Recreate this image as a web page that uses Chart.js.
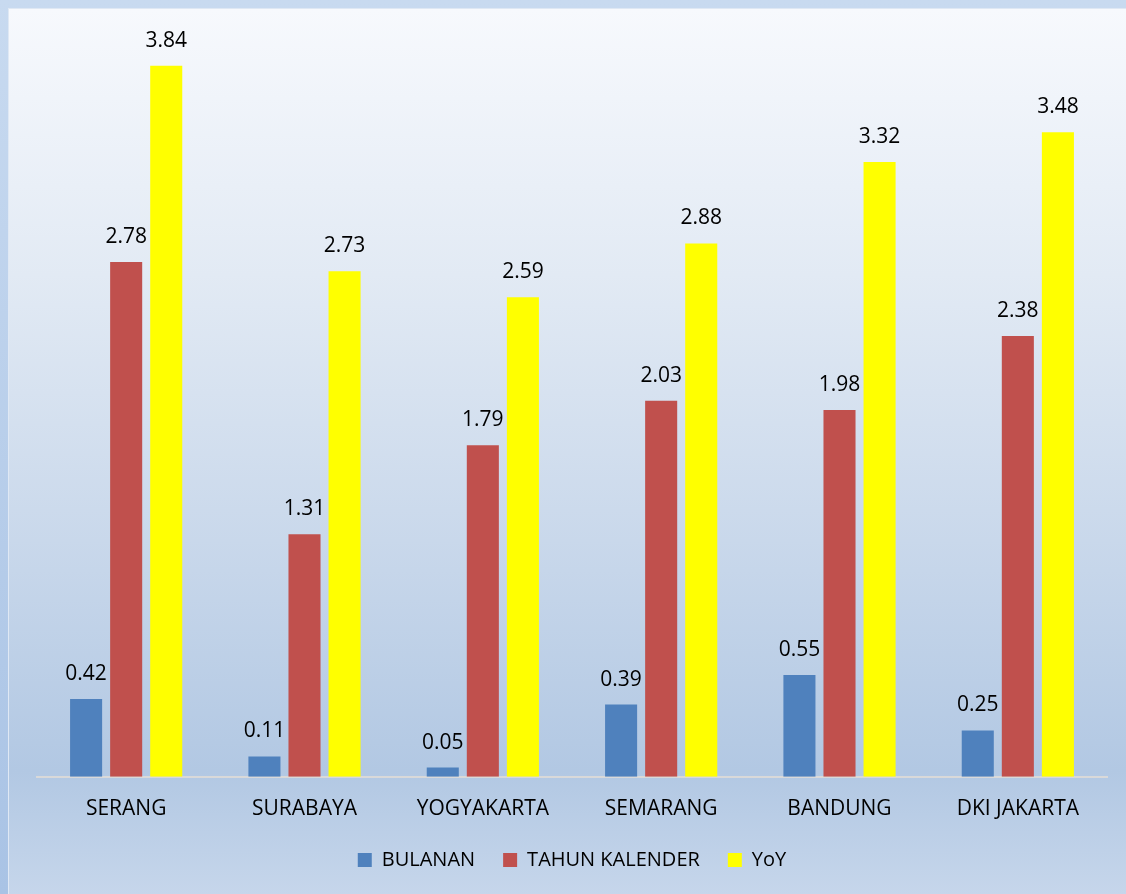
<!DOCTYPE html>
<html>
<head>
<meta charset="utf-8">
<script src="https://cdn.jsdelivr.net/npm/chart.js@4"></script>
<style>
  html, body { margin: 0; padding: 0; }
  body { width: 1126px; height: 894px; background: linear-gradient(to bottom, #c8daf0, #a9c3e5); overflow: hidden; }
  #panel {
    position: absolute; left: 8px; top: 8px; width: 1118px; height: 886px;
    background: linear-gradient(to bottom, #f7f9fd 0%, #e2eaf4 30%, #c9d8eb 60%, #b2c8e3 86%, #c6d6eb 100%);
    border-left: 1px solid #dfe8f4; border-top: 1px solid #dfe8f4;
  }
  #wrap { position: absolute; left: 0; top: 0; width: 1126px; height: 894px; }
</style>
</head>
<body>
<div id="panel"></div>
<div id="wrap"><canvas id="myChart"></canvas></div>
<script>
  const cities = ["SERANG", "SURABAYA", "YOGYAKARTA", "SEMARANG", "BANDUNG", "DKI JAKARTA"];
  const bulanan = [0.42, 0.11, 0.05, 0.39, 0.55, 0.25];
  const tahunKalender = [2.78, 1.31, 1.79, 2.03, 1.98, 2.38];
  const yoy = [3.84, 2.73, 2.59, 2.88, 3.32, 3.48];

  Chart.defaults.font.family = "'Open Sans', sans-serif";
  Chart.defaults.color = "#000";

  // labels above each bar
  const barLabels = {
    id: "barLabels",
    afterDatasetsDraw(chart) {
      const ctx = chart.ctx;
      ctx.save();
      ctx.font = "21px 'Open Sans', sans-serif";
      ctx.fillStyle = "#000";
      ctx.textAlign = "center";
      ctx.textBaseline = "middle";
      chart.data.datasets.forEach(function (ds, i) {
        chart.getDatasetMeta(i).data.forEach(function (bar, j) {
          ctx.fillText(ds.data[j].toFixed(2), bar.x, bar.y - 25);
        });
      });
      ctx.restore();
    },
  };

  const data = {
    labels: cities,
    datasets: [
      { label: "BULANAN", data: bulanan, backgroundColor: "#4f81bd" },
      { label: "TAHUN KALENDER", data: tahunKalender, backgroundColor: "#c0504d" },
      { label: "YoY", data: yoy, backgroundColor: "#ffff00" },
    ],
  };

  const config = {
    type: "bar",
    data: data,
    plugins: [barLabels],
    options: {
      responsive: false,
      animation: false,
      layout: { padding: { left: 37, right: 19, top: 36, bottom: 14 } },
      datasets: { bar: { categoryPercentage: 0.674, barPercentage: 0.8 } },
      scales: {
        x: {
          grid: { display: false, drawTicks: false },
          border: { color: "#d9d9d9", width: 2 },
          ticks: { font: { size: 21 }, padding: 20 },
          afterFit: function (scale) { scale.height -= 20; },
        },
        y: { display: false, min: 0, max: 4 },
      },
      plugins: {
        legend: {
          position: "bottom",
          labels: { font: { size: 20 }, boxWidth: 14, boxHeight: 14, padding: 28 },
        },
        tooltip: { enabled: false },
      },
    },
  };

  const cv = document.getElementById("myChart");
  cv.width = 1126;
  cv.height = 894;
  const myChart = new Chart(cv, config);
</script>
</body>
</html>
